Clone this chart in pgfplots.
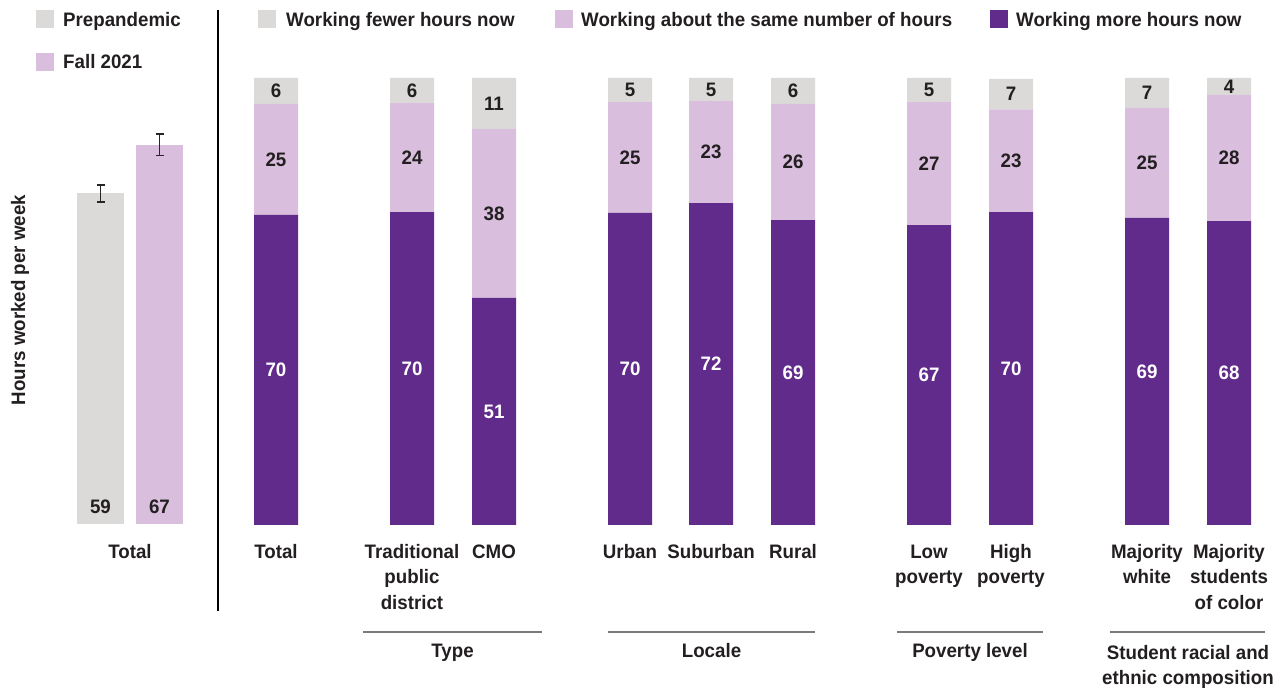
\documentclass[border=0pt]{standalone}
\usepackage{fontspec}
\setmainfont{Liberation Sans}[FakeStretch=0.96]
\usepackage{pgfplots}
\usepackage{pgfplotstable}
\pgfplotsset{compat=1.18}
\definecolor{grayb}{HTML}{DBDAD9}
\definecolor{lightp}{HTML}{D9BFDD}
\definecolor{darkp}{HTML}{612B8B}
\definecolor{txt}{HTML}{231F20}
\definecolor{rule}{HTML}{7A7A7A}

\pgfplotstableread{
x more moreLab same sameLab fewer fewerLab
276 69.4 70 24.8 25 5.8 6
412 70.0 70 24.4 24 5.6 6
494 50.8 51 37.8 38 11.4 11
630 69.8 70 24.8 25 5.4 5
711 72.0 72 22.8 23 5.2 5
793 68.2 69 26.0 26 5.8 6
929 67.1 67 27.5 27 5.4 5
1011 70.0 70 23.0 23 6.8 7
1147 68.7 69 24.6 25 6.7 7
1229 68.0 68 28.2 28 3.8 4
}\stackdata

\newcommand{\cf}{\fontsize{19.5}{24}\selectfont\bfseries}

\begin{document}
\begin{tikzpicture}[x=1pt,y=1pt]
\path[use as bounding box] (0,0) rectangle (1283,688);

% ---------------- left panel ----------------
\begin{axis}[
  at={(40pt,164pt)}, anchor=south west, scale only axis,
  width=170pt, height=451.44pt,
  xmin=40, xmax=210, ymin=0, ymax=80,
  hide axis, clip=false,
]
\addplot[ybar, bar width=47pt, bar shift=0pt, fill=grayb, draw=none,
  error bars/.cd, y dir=both, y explicit,
  error bar style={line width=1.8pt, black!85},
  error mark options={rotate=90, mark size=4pt, line width=1.6pt, black!85}]
  coordinates {(100.5,58.6) +- (0,1.5)};
\addplot[ybar, bar width=47pt, bar shift=0pt, fill=lightp, draw=none,
  error bars/.cd, y dir=both, y explicit,
  error bar style={line width=1.8pt, black!85},
  error mark options={rotate=90, mark size=4pt, line width=1.6pt, black!85}]
  coordinates {(159.5,67.2) +- (0,1.9)};
\node[anchor=base, inner sep=0pt, font=\cf, text=txt] at (axis cs:100.5,0) [yshift=10pt] {59};
\node[anchor=base, inner sep=0pt, font=\cf, text=txt] at (axis cs:159.5,0) [yshift=10pt] {67};
\end{axis}

% ---------------- right panel ----------------
\begin{axis}[
  at={(230pt,163pt)}, anchor=south west, scale only axis,
  width=1053pt, height=447pt,
  xmin=230, xmax=1283, ymin=0, ymax=100,
  hide axis, clip=false,
  ybar stacked, bar width=44pt,
]
\addplot[fill=darkp, draw=none,
  nodes near coords, point meta=explicit symbolic,
  every node near coord/.style={anchor=center, inner sep=0pt, text=white, font=\cf}]
  table[x=x, y=more, meta=moreLab] {\stackdata};
\addplot[fill=lightp, draw=none,
  nodes near coords, point meta=explicit symbolic,
  every node near coord/.style={anchor=center, inner sep=0pt, text=txt, font=\cf}]
  table[x=x, y=same, meta=sameLab] {\stackdata};
\addplot[fill=grayb, draw=none,
  nodes near coords, point meta=explicit symbolic,
  every node near coord/.style={anchor=center, inner sep=0pt, text=txt, font=\cf}]
  table[x=x, y=fewer, meta=fewerLab] {\stackdata};
\end{axis}

% ---------------- decorations ----------------
\begin{scope}[every node/.style={inner sep=0pt, font=\cf, text=txt}]
% left legend
\fill[grayb] (36,660) rectangle (54,678);
\node[anchor=base west] at (63,661) {Prepandemic};
\fill[lightp] (36,617) rectangle (54,635);
\node[anchor=base west] at (63,619) {Fall 2021};
% top legend
\fill[grayb] (258,660) rectangle (276,678);
\node[anchor=base west] at (286,661) {Working fewer hours now};
\fill[lightp] (555,660) rectangle (573,678);
\node[anchor=base west] at (581,661) {Working about the same number of hours};
\fill[darkp] (990,660) rectangle (1008,678);
\node[anchor=base west] at (1016,661) {Working more hours now};

% y label
\node[rotate=90] at (20,388) {Hours worked per week};
% separator
\draw[line width=1.3pt, black] (218,678) -- (218,77);

% category labels
\node[anchor=base] at (130,129.5) {Total};
\node[anchor=base] at (276,129.5) {Total};
\node[anchor=base] at (412,129.5) {Traditional};
\node[anchor=base] at (412,104) {public};
\node[anchor=base] at (412,78.5) {district};
\node[anchor=base] at (494,129.5) {CMO};
\node[anchor=base] at (630,129.5) {Urban};
\node[anchor=base] at (711,129.5) {Suburban};
\node[anchor=base] at (793,129.5) {Rural};
\node[anchor=base] at (929,129.5) {Low};
\node[anchor=base] at (929,104) {poverty};
\node[anchor=base] at (1011,129.5) {High};
\node[anchor=base] at (1011,104) {poverty};
\node[anchor=base] at (1147,129.5) {Majority};
\node[anchor=base] at (1147,104) {white};
\node[anchor=base] at (1229,129.5) {Majority};
\node[anchor=base] at (1229,104) {students};
\node[anchor=base] at (1229,78.5) {of color};

% group rules and labels
\draw[rule, line width=1.3pt] (363,56) -- (542,56);
\draw[rule, line width=1.3pt] (608,56) -- (815,56);
\draw[rule, line width=1.3pt] (897,56) -- (1043,56);
\draw[rule, line width=1.3pt] (1110,56) -- (1265,56);
\node[anchor=base] at (452.5,30) {Type};
\node[anchor=base] at (711.5,30) {Locale};
\node[anchor=base] at (970,30) {Poverty level};
\node[anchor=base] at (1188,28) {Student racial and};
\node[anchor=base] at (1188,3) {ethnic composition};
\end{scope}
\end{tikzpicture}
\end{document}
